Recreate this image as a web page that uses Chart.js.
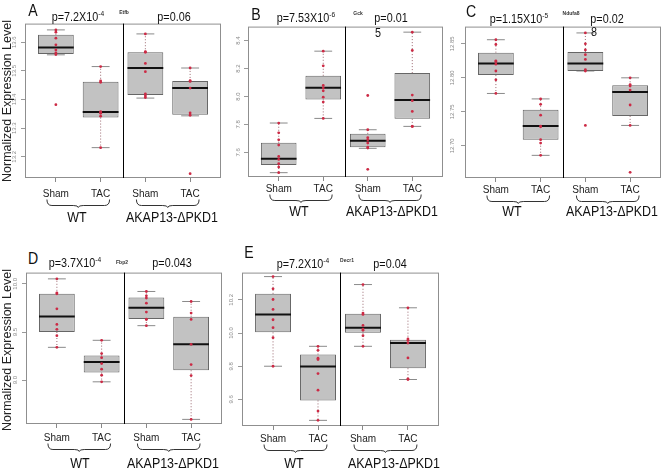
<!DOCTYPE html>
<html>
<head>
<meta charset="utf-8">
<script src="https://cdn.jsdelivr.net/npm/chart.js@4.4.1/dist/chart.umd.min.js"></script>
<style>
html, body { margin: 0; padding: 0; background: #fff; }
body {
    width: 662px; height: 469px; position: relative; overflow: hidden;
    font-family: "Liberation Sans", Arial, sans-serif;
    color: #111;
}
canvas { position: absolute; }
/* the source figure is squeezed horizontally, so the labels are too */
.t { position: absolute; transform: translate(-50%, -50%) scaleX(0.83); white-space: nowrap; line-height: 1; }
.p { font-size: 13px; }
.p sup { font-size: 8px; vertical-align: 0; position: relative; top: -5px; }
.g { font-size: 15px; }
.L { font-size: 17px; }
.gene { font-size: 6px; font-weight: bold; color: #333; }
.ytitle { font-size: 12.5px; color: #222; transform: translate(-50%, -50%) rotate(-90deg); }
</style>
</head>
<body>
<canvas id="chartA"></canvas>
<canvas id="chartB"></canvas>
<canvas id="chartC"></canvas>
<canvas id="chartD"></canvas>
<canvas id="chartE"></canvas>

<!-- panel letters, p-values, gene names -->
<div class="t L" style="left:33px;top:10px">A</div>
<div class="t p" style="left:78px;top:16px">p=7.2X10<sup>-4</sup></div>
<div class="t gene" style="left:124px;top:12px">Etfb</div>
<div class="t p" style="left:174px;top:16px">p=0.06</div>

<div class="t L" style="left:256px;top:14px">B</div>
<div class="t p" style="left:306px;top:17px">p=7.53X10<sup>-6</sup></div>
<div class="t gene" style="left:358px;top:13px">Gck</div>
<div class="t p" style="left:391px;top:17px">p=0.01</div>
<div class="t p" style="left:378px;top:32px">5</div>

<div class="t L" style="left:471px;top:11px">C</div>
<div class="t p" style="left:519px;top:18px">p=1.15X10<sup>-5</sup></div>
<div class="t gene" style="left:571px;top:13px">Ndufa8</div>
<div class="t p" style="left:607px;top:18px">p=0.02</div>
<div class="t p" style="left:594px;top:31px">8</div>

<div class="t L" style="left:33px;top:258px">D</div>
<div class="t p" style="left:75px;top:262px">p=3.7X10<sup>-4</sup></div>
<div class="t gene" style="left:122px;top:262px">Fbp2</div>
<div class="t p" style="left:172px;top:262px">p=0.043</div>

<div class="t L" style="left:249px;top:252px">E</div>
<div class="t p" style="left:303px;top:263px">p=7.2X10<sup>-4</sup></div>
<div class="t gene" style="left:347px;top:260px">Decr1</div>
<div class="t p" style="left:390px;top:263px">p=0.04</div>

<!-- group labels under the braces -->
<div class="t g" style="left:77px;top:216px">WT</div>
<div class="t g" style="left:172px;top:216px">AKAP13-ΔPKD1</div>
<div class="t g" style="left:299px;top:210px">WT</div>
<div class="t g" style="left:392px;top:210px">AKAP13-ΔPKD1</div>
<div class="t g" style="left:512px;top:210px">WT</div>
<div class="t g" style="left:612px;top:210px">AKAP13-ΔPKD1</div>
<div class="t g" style="left:80px;top:462px">WT</div>
<div class="t g" style="left:173px;top:462px">AKAP13-ΔPKD1</div>
<div class="t g" style="left:294px;top:462px">WT</div>
<div class="t g" style="left:394px;top:462px">AKAP13-ΔPKD1</div>

<div class="t ytitle" style="left:7px;top:101px">Normalized Expression Level</div>
<div class="t ytitle" style="left:7px;top:350px">Normalized Expression Level</div>

<script>
const groups = ['Sham', 'TAC', 'Sham', 'TAC'];

// box stats per group: [lower whisker, Q1, median, Q3, upper whisker]

// A - Etfb
const ticksA = ['13.2', '13.3', '13.4', '13.5', '13.6'];
const boxA = [
    [13.556, 13.559, 13.582, 13.626, 13.643],
    [13.232, 13.337, 13.356, 13.462, 13.515],
    [13.405, 13.416, 13.510, 13.565, 13.629],
    [13.343, 13.347, 13.440, 13.465, 13.510]
];
const ptsA = [
    [13.643, 13.635, 13.614, 13.591, 13.573, 13.563, 13.557, 13.382],
    [13.515, 13.465, 13.460, 13.358, 13.355, 13.352, 13.342, 13.232],
    [13.629, 13.567, 13.565, 13.526, 13.497, 13.420, 13.413, 13.407],
    [13.510, 13.466, 13.463, 13.440, 13.353, 13.345, 13.141]
];

// B - Gck
const ticksB = ['7.6', '7.8', '8.0', '8.2', '8.4'];
const boxB = [
    [7.455, 7.510, 7.555, 7.669, 7.810],
    [7.843, 7.979, 8.062, 8.148, 8.324],
    [7.629, 7.636, 7.683, 7.733, 7.762],
    [7.786, 7.840, 7.974, 8.167, 8.460]
];
const ptsB = [
    [7.810, 7.740, 7.690, 7.652, 7.571, 7.550, 7.519, 7.495, 7.455],
    [8.324, 8.219, 8.079, 8.060, 8.040, 7.995, 7.960, 7.843],
    [8.007, 7.762, 7.705, 7.690, 7.667, 7.638, 7.631, 7.479],
    [8.460, 8.329, 8.010, 7.970, 7.893, 7.786, 7.786]
];

// C - Ndufa8
const ticksC = ['12.70', '12.75', '12.80', '12.85'];
const boxC = [
    [12.777, 12.804, 12.821, 12.837, 12.856],
    [12.686, 12.709, 12.729, 12.753, 12.769],
    [12.810, 12.810, 12.821, 12.838, 12.866],
    [12.730, 12.744, 12.779, 12.789, 12.800]
];
const ptsC = [
    [12.856, 12.849, 12.825, 12.824, 12.820, 12.810, 12.797, 12.777],
    [12.769, 12.761, 12.745, 12.729, 12.728, 12.709, 12.704, 12.686],
    [12.866, 12.850, 12.841, 12.834, 12.827, 12.812, 12.810, 12.730],
    [12.800, 12.790, 12.788, 12.782, 12.760, 12.730, 12.661]
];

// D - Fbp2
const ticksD = ['9.0', '9.5', '10.0'];
const boxD = [
    [9.341, 9.500, 9.662, 9.897, 10.052],
    [8.983, 9.079, 9.190, 9.255, 9.414],
    [9.566, 9.634, 9.752, 9.859, 9.921],
    [8.593, 9.103, 9.372, 9.659, 9.817]
];
const ptsD = [
    [10.052, 9.907, 9.897, 9.741, 9.579, 9.528, 9.462, 9.341],
    [9.414, 9.276, 9.234, 9.172, 9.114, 9.052, 8.983],
    [9.921, 9.876, 9.852, 9.800, 9.707, 9.634, 9.630, 9.566],
    [9.817, 9.697, 9.631, 9.372, 9.162, 9.048, 8.593]
];

// E - Decr1
const ticksE = ['9.6', '9.8', '10.0', '10.2'];
const boxE = [
    [9.800, 10.004, 10.112, 10.236, 10.340],
    [9.474, 9.594, 9.798, 9.870, 9.920],
    [9.920, 10.002, 10.032, 10.116, 10.292],
    [9.720, 9.788, 9.940, 9.960, 10.152]
];
const ptsE = [
    [10.340, 10.266, 10.202, 10.142, 10.080, 10.032, 9.972, 9.800],
    [9.920, 9.896, 9.848, 9.840, 9.756, 9.656, 9.530, 9.474],
    [10.292, 10.120, 10.112, 10.046, 10.024, 10.016, 9.984, 9.920],
    [10.152, 9.964, 9.956, 9.940, 9.850, 9.724, 9.720]
];

// plot box (page px) and label gap for every panel
const panels = [
    { id: 'chartA', box: boxA, pts: ptsA, ticks: ticksA, yMin: 13.126, yMax: 13.665, L: 25, T: 23, R: 221, B: 178, gap: 16 },
    { id: 'chartB', box: boxB, pts: ptsB, ticks: ticksB, yMin: 7.424, yMax: 8.4997, L: 248, T: 26, R: 443, B: 177, gap: 12 },
    { id: 'chartC', box: boxC, pts: ptsC, ticks: ticksC, yMin: 12.6527, yMax: 12.8753, L: 465, T: 26, R: 661, B: 178, gap: 12 },
    { id: 'chartD', box: boxD, pts: ptsD, ticks: ticksD, yMin: 8.545, yMax: 10.117, L: 26, T: 272, R: 222, B: 424, gap: 14 },
    { id: 'chartE', box: boxE, pts: ptsE, ticks: ticksE, yMin: 9.44, yMax: 10.364, L: 242, T: 272, R: 439, B: 426, gap: 13 }
];

function drawBrace(ctx, x0, x1, y0, h) {
    const xm = (x0 + x1) / 2, y1 = y0 + h - 2, r = 5;
    ctx.beginPath();
    ctx.moveTo(x0, y0);
    ctx.quadraticCurveTo(x0, y1, x0 + r, y1);
    ctx.lineTo(xm - r, y1);
    ctx.quadraticCurveTo(xm, y1, xm, y1 + 2);
    ctx.quadraticCurveTo(xm, y1, xm + r, y1);
    ctx.lineTo(x1 - r, y1);
    ctx.quadraticCurveTo(x1, y1, x1, y0);
    ctx.stroke();
}

// plot frame, WT | AKAP divider and the braces under the category labels
const framePlugin = {
    id: 'frame',
    afterDraw(chart, args, opts) {
        const { ctx, chartArea: a, scales: { x } } = chart;
        ctx.save();
        ctx.lineWidth = 1;
        ctx.strokeStyle = '#8f8f8f';
        ctx.strokeRect(a.left + 0.5, a.top + 0.5, a.width - 1, a.height - 1);

        const xd = Math.round(x.getPixelForValue(2.5)) + 0.5;
        ctx.strokeStyle = '#000';
        ctx.beginPath();
        ctx.moveTo(xd, a.top);
        ctx.lineTo(xd, a.bottom);
        ctx.stroke();

        ctx.strokeStyle = '#333';
        const yb = a.bottom + opts.gap + 5.5;
        drawBrace(ctx, x.getPixelForValue(0.8), x.getPixelForValue(2.2), yb, 8);
        drawBrace(ctx, x.getPixelForValue(2.8), x.getPixelForValue(4.2), yb, 8);
        ctx.restore();
    }
};

function makeChart(p) {
    const canvas = document.getElementById(p.id);
    const w = p.R - p.L + 30, h = p.B - p.T + 44;
    canvas.width = w;
    canvas.height = h;
    canvas.style.left = (p.L - 24) + 'px';
    canvas.style.top = (p.T - 4) + 'px';
    canvas.style.width = w + 'px';
    canvas.style.height = h + 'px';

    const boxes = [], whiskers = [], caps = [], medians = [], dots = [];
    p.box.forEach((b, i) => {
        const x = i + 1;
        const [lo, q1, med, q3, hi] = b;
        boxes.push({ x, y: [q1, q3] });
        whiskers.push({ x, y: q3 }, { x, y: hi }, { x, y: null }, { x, y: q1 }, { x, y: lo }, { x, y: null });
        caps.push({ x: x - 0.2, y: hi }, { x: x + 0.2, y: hi }, { x, y: null },
                  { x: x - 0.2, y: lo }, { x: x + 0.2, y: lo }, { x, y: null });
        medians.push({ x: x - 0.4, y: med }, { x: x + 0.4, y: med }, { x, y: null });
    });
    p.pts.forEach((arr, i) => arr.forEach(v => dots.push({ x: i + 1, y: v })));

    return new Chart(canvas.getContext('2d'), {
        type: 'bar',
        data: {
            datasets: [
                {
                    type: 'line', data: whiskers, borderColor: '#9a6870', borderWidth: 1,
                    borderDash: [1, 2], pointRadius: 0, spanGaps: false, order: 5
                },
                {
                    type: 'line', data: caps, borderColor: '#8a8a8a', borderWidth: 1,
                    pointRadius: 0, spanGaps: false, order: 4
                },
                {
                    data: boxes, backgroundColor: '#c2c2c2', borderColor: '#666', borderWidth: 1,
                    borderSkipped: false, barPercentage: 1, categoryPercentage: 0.8, order: 3
                },
                {
                    type: 'line', data: medians, borderColor: '#111', borderWidth: 2,
                    pointRadius: 0, spanGaps: false, order: 2
                },
                {
                    type: 'scatter', data: dots, backgroundColor: '#cc2a45', borderWidth: 0,
                    pointRadius: 1.4, order: 1
                }
            ]
        },
        options: {
            responsive: false,
            animation: false,
            events: [],
            layout: { padding: { left: 0, top: 4, right: 6, bottom: 0 } },
            plugins: {
                legend: { display: false },
                tooltip: { enabled: false },
                frame: { gap: p.gap }
            },
            scales: {
                x: {
                    type: 'linear', min: 0.31, max: 4.69, offset: false,
                    afterBuildTicks: s => { s.ticks = groups.map((g, i) => ({ value: i + 1 })); },
                    afterFit: s => { s.height = 40; },
                    ticks: {
                        callback: (v, i) => groups[i], autoSkip: false, maxRotation: 0,
                        padding: p.gap - 10.2, color: '#222',
                        font: { family: '"Liberation Sans", sans-serif', size: 10 }
                    },
                    grid: { drawOnChartArea: false, tickLength: 4, color: '#888', offset: false },
                    border: { display: false }
                },
                y: {
                    min: p.yMin, max: p.yMax,
                    afterBuildTicks: s => { s.ticks = p.ticks.map(t => ({ value: parseFloat(t) })); },
                    afterFit: s => { s.width = 24; },
                    ticks: {
                        callback: (v, i) => p.ticks[i], minRotation: 90, maxRotation: 90,
                        crossAlign: 'center', padding: 1, color: '#888',
                        font: { family: 'Liberation Sans', size: 6 }
                    },
                    grid: { drawOnChartArea: false, tickLength: 4, color: '#999' },
                    border: { display: false }
                }
            }
        },
        plugins: [framePlugin]
    });
}

panels.forEach(makeChart);
</script>
</body>
</html>
